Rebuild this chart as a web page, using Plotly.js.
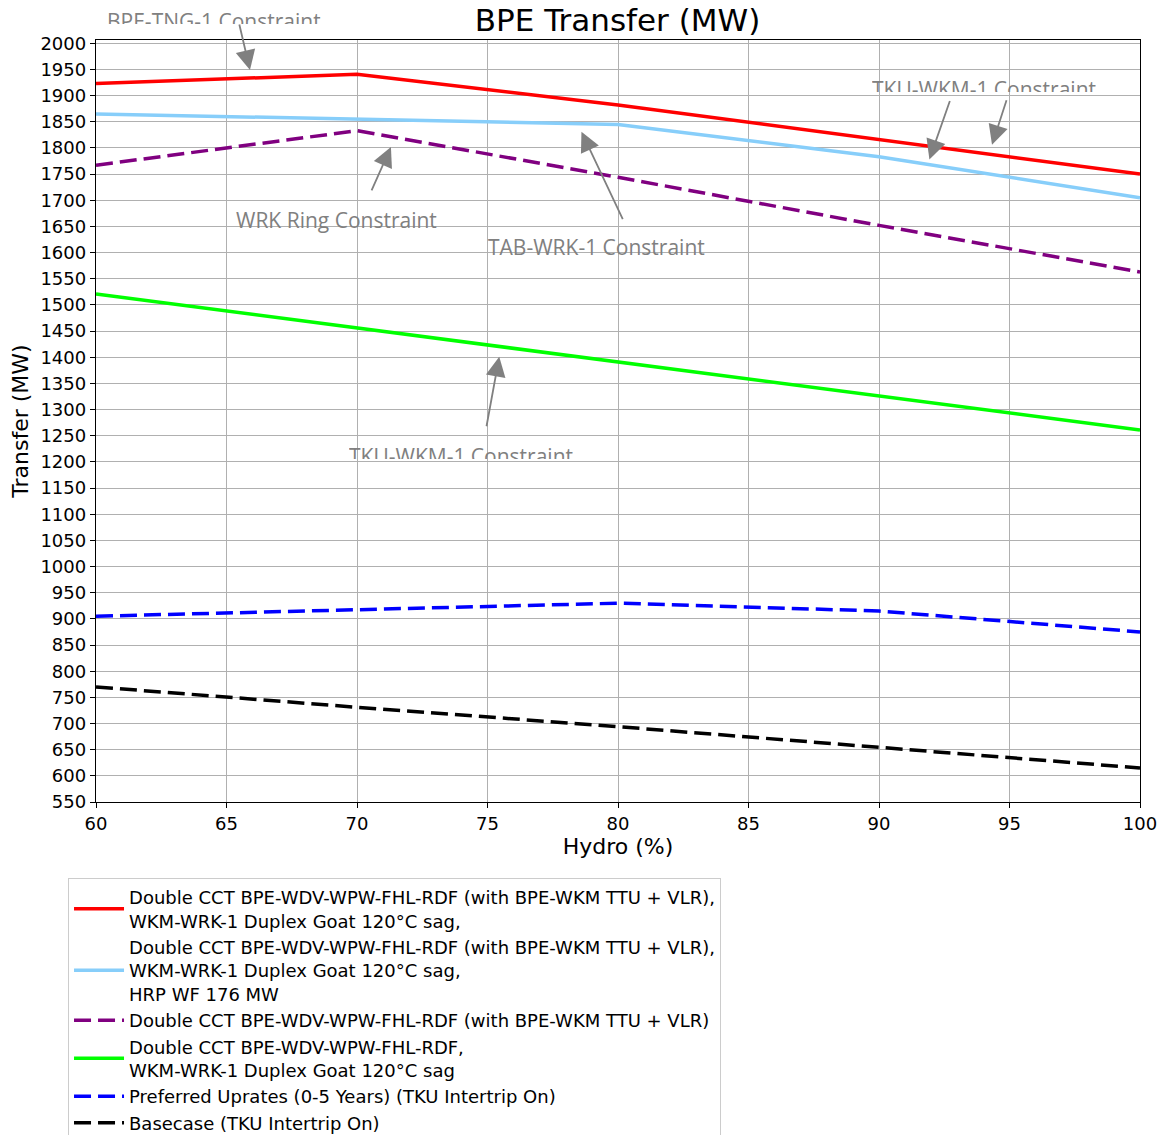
<!DOCTYPE html>
<html>
<head>
<meta charset="utf-8">
<script src="https://cdn.plot.ly/plotly-3.0.1.min.js"></script>
<style>html,body{margin:0;padding:0;background:#fff;}#chart{width:1166px;height:1135px;}</style>
</head>
<body>
<div id="chart"></div>
<script>
const hydro = [60, 70, 80, 90, 100];
const doubleCctTtuGoat = [1923, 1941, 1882, 1816, 1750];
const doubleCctTtuGoatHrp = [1865, 1855, 1845, 1783, 1705];
const doubleCctTtu = [1767, 1833, 1744, 1652, 1563];
const doubleCctGoat = [1521, 1456, 1391, 1326, 1261];
const preferredUprates = [905, 918, 930, 915, 875];
const basecase = [770, 731, 694, 654, 615];

const seriesNames = [
  'Double CCT BPE-WDV-WPW-FHL-RDF (with BPE-WKM TTU + VLR),<br>WKM-WRK-1 Duplex Goat 120°C sag,',
  'Double CCT BPE-WDV-WPW-FHL-RDF (with BPE-WKM TTU + VLR),<br>WKM-WRK-1 Duplex Goat 120°C sag,<br>HRP WF 176 MW',
  'Double CCT BPE-WDV-WPW-FHL-RDF (with BPE-WKM TTU + VLR)',
  'Double CCT BPE-WDV-WPW-FHL-RDF,<br>WKM-WRK-1 Duplex Goat 120°C sag',
  'Preferred Uprates (0-5 Years) (TKU Intertrip On)',
  'Basecase (TKU Intertrip On)'
];
const seriesValues = [doubleCctTtuGoat, doubleCctTtuGoatHrp, doubleCctTtu, doubleCctGoat, preferredUprates, basecase];
const seriesColors = ['#ff0000', '#87cefa', '#800080', '#00ff00', '#0000ff', '#000000'];
const seriesDash = ['solid', 'solid', '17px,7px', 'solid', '17px,7px', '17px,7px'];

const yTicks = [];
for (let v = 550; v <= 2000; v += 50) yTicks.push(v);

const traces = seriesValues.map((vals, i) => ({
  x: hydro, y: vals, type: 'scatter', mode: 'lines', name: seriesNames[i],
  line: {color: seriesColors[i], width: 3.5, dash: seriesDash[i]}
}));

const annFont = {family: 'Open Sans, sans-serif', size: 21, color: '#808080'};
const arrowStyle = {showarrow: true, arrowhead: 2, arrowsize: 2.2, arrowwidth: 1.8, arrowcolor: '#808080', text: '', standoff: 0, startstandoff: 0};
const textStyle = {xref: 'paper', yref: 'paper', showarrow: false, font: annFont, xanchor: 'center', yanchor: 'middle'};
const clipStyle = {xref: 'paper', yref: 'paper', showarrow: false, font: annFont, xanchor: 'center', yanchor: 'top', valign: 'top', height: 17};

const annotations = [
  Object.assign({x: 0.1126, y: 1.046, text: 'BPE-TNG-1 Constraint'}, clipStyle),
  Object.assign({x: 0.851, y: 0.9567, text: 'TKU-WKM-1 Constraint'}, clipStyle),
  Object.assign({x: 0.2299, y: 0.7644, text: 'WRK Ring Constraint'}, textStyle),
  Object.assign({x: 0.4794, y: 0.729, text: 'TAB-WRK-1 Constraint'}, textStyle),
  Object.assign({x: 0.350, y: 0.4757, text: 'TKU-WKM-1 Constraint'}, clipStyle),
  Object.assign({xref: 'x', yref: 'y', x: 65.9, y: 1949, ax: -11, ay: -47}, arrowStyle),
  Object.assign({xref: 'x', yref: 'y', x: 71.3, y: 1802, ax: -20, ay: 45}, arrowStyle),
  Object.assign({xref: 'x', yref: 'y', x: 78.6, y: 1831, ax: 42, ay: 89}, arrowStyle),
  Object.assign({xref: 'x', yref: 'y', x: 91.93, y: 1778, ax: 21, ay: -60}, arrowStyle),
  Object.assign({xref: 'x', yref: 'y', x: 94.33, y: 1806, ax: 15, ay: -46}, arrowStyle),
  Object.assign({xref: 'x', yref: 'y', x: 75.45, y: 1401, ax: -13, ay: 71}, arrowStyle)
];

const layout = {
  width: 1166, height: 1135,
  margin: {l: 96, r: 26, t: 40, b: 333, autoexpand: false},
  paper_bgcolor: '#ffffff', plot_bgcolor: '#ffffff',
  font: {family: 'DejaVu Sans, sans-serif', size: 18, color: '#000'},
  title: {text: 'BPE Transfer (MW)', font: {family: 'DejaVu Sans, sans-serif', size: 31, color: '#000'},
          x: 0.5296, xanchor: 'center', y: 0.9824, yanchor: 'middle', xref: 'container', yref: 'container'},
  xaxis: {
    range: [60, 100], tickvals: [60, 65, 70, 75, 80, 85, 90, 95, 100],
    showgrid: true, gridcolor: '#b0b0b0', gridwidth: 1, zeroline: false,
    showline: true, linecolor: '#000', linewidth: 1.2, mirror: true,
    ticks: 'outside', ticklen: 5, tickcolor: '#000', tickfont: {size: 18},
    title: {text: 'Hydro (%)', font: {size: 22}, standoff: 5}
  },
  yaxis: {
    range: [550, 2006.3], tickvals: yTicks,
    showgrid: true, gridcolor: '#b0b0b0', gridwidth: 1, zeroline: false,
    showline: true, linecolor: '#000', linewidth: 1.2, mirror: true,
    ticks: 'outside', ticklen: 5, tickcolor: '#000', tickfont: {size: 18},
    title: {text: 'Transfer (MW)', font: {size: 22}, standoff: 5}
  },
  legend: {
    x: -0.0268, y: -0.0997, xanchor: 'left', yanchor: 'top',
    bgcolor: '#ffffff', bordercolor: '#cccccc', borderwidth: 1,
    font: {family: 'DejaVu Sans, sans-serif', size: 18, color: '#000'},
    tracegroupgap: 0, itemwidth: 50
  },
  showlegend: true,
  annotations: annotations
};

Plotly.newPlot('chart', traces, layout, {displayModeBar: false, staticPlot: true});
</script>
</body>
</html>
